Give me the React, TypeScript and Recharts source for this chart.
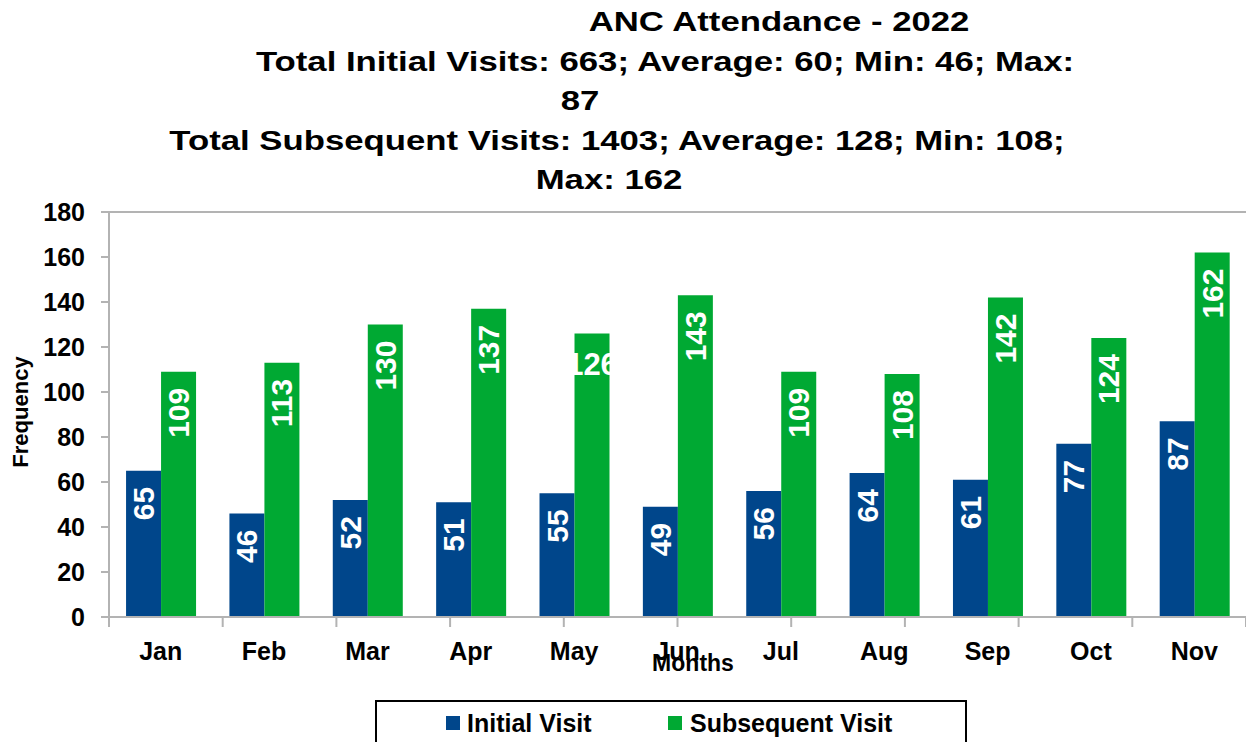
import React from 'react';
import {
  BarChart,
  Bar,
  XAxis,
  YAxis,
  ReferenceLine,
  LabelList,
} from 'recharts';

const months = ['Jan', 'Feb', 'Mar', 'Apr', 'May', 'Jun', 'Jul', 'Aug', 'Sep', 'Oct', 'Nov'];
const initialVisits = [65, 46, 52, 51, 55, 49, 56, 64, 61, 77, 87];
const subsequentVisits = [109, 113, 130, 137, 126, 143, 109, 108, 142, 124, 162];
const yTicks = [0, 20, 40, 60, 80, 100, 120, 140, 160, 180];
const boundaryTicks = [0, 1, 2, 3, 4, 5, 6, 7, 8, 9, 10, 11];

const titleLines = [
  { text: 'ANC Attendance - 2022', cx: 779, cy: 22 },
  { text: 'Total Initial Visits: 663; Average: 60; Min: 46; Max:', cx: 665, cy: 62 },
  { text: '87', cx: 580, cy: 101 },
  { text: 'Total Subsequent Visits: 1403; Average: 128; Min: 108;', cx: 617, cy: 141 },
  { text: 'Max: 162', cx: 609, cy: 180 },
];

// the one label Excel left lying flat (and clipped) in the May bar
const flatLabelMonth = 'May';

const data = months.map((month, i) => ({
  month,
  initial: initialVisits[i],
  subsequent: subsequentVisits[i],
}));

const BLUE = '#00468b';
const GREEN = '#00a933';
const AXIS = '#b3b3b3';
const FONT = '"Liberation Sans", Arial, sans-serif';

const makeLabel = (series: 'initial' | 'subsequent') => (props: any) => {
  const { x, y, width, value, index } = props;
  const cx = Number(x) + Number(width) / 2;
  const top = Number(y);
  if (series === 'subsequent' && months[index] === flatLabelMonth) {
    return (
      <text
        x={cx}
        y={top + 31}
        textAnchor="middle"
        dominantBaseline="central"
        fill="#fff"
        fontSize={31}
        fontWeight="bold"
        fontFamily={FONT}
      >
        {value}
      </text>
    );
  }
  const ty = top + 16;
  return (
    <text
      x={cx}
      y={ty}
      transform={`rotate(-90 ${cx} ${ty})`}
      textAnchor="end"
      dominantBaseline="central"
      fill="#fff"
      fontSize={30}
      fontWeight="bold"
      fontFamily={FONT}
    >
      {value}
    </text>
  );
};

const App: React.FC = () => {
  return (
    <div
      style={{
        position: 'absolute',
        left: 0,
        top: 0,
        width: 1246,
        height: 742,
        overflow: 'hidden',
        background: '#fff',
        fontFamily: FONT,
      }}
    >
      <BarChart
        width={1246}
        height={742}
        data={data}
        margin={{ top: 212, right: 0, bottom: 123, left: 9 }}
        barCategoryGap="16.5%"
        barGap={0}
      >
        <XAxis
          dataKey="month"
          height={1}
          tickLine={false}
          tickSize={0}
          tickMargin={25}
          interval={0}
          axisLine={{ stroke: AXIS, strokeWidth: 2 }}
          tick={{ fontSize: 25, fontWeight: 'bold', fill: '#000', fontFamily: FONT }}
        />
        {/* separator ticks between the months */}
        <XAxis
          xAxisId="grid"
          type="number"
          domain={[0, 11]}
          ticks={boundaryTicks}
          interval={0}
          height={1}
          tickFormatter={() => ''}
          tick={{ fontSize: 1, fill: 'none' }}
          tickSize={9}
          axisLine={false}
          tickLine={{ stroke: AXIS, strokeWidth: 2 }}
          allowDataOverflow
        />
        <YAxis
          width={100}
          domain={[0, 180]}
          ticks={yTicks}
          interval={0}
          tickSize={8}
          tickMargin={16}
          axisLine={{ stroke: AXIS, strokeWidth: 2 }}
          tickLine={{ stroke: AXIS, strokeWidth: 2 }}
          tick={{ fontSize: 25, fontWeight: 'bold', fill: '#000', fontFamily: FONT }}
        />
        <ReferenceLine y={180} stroke={AXIS} strokeWidth={2} />
        <Bar dataKey="initial" name="Initial Visit" fill={BLUE} isAnimationActive={false}>
          <LabelList dataKey="initial" content={makeLabel('initial')} />
        </Bar>
        <Bar dataKey="subsequent" name="Subsequent Visit" fill={GREEN} isAnimationActive={false}>
          <LabelList dataKey="subsequent" content={makeLabel('subsequent')} />
        </Bar>
      </BarChart>

      {titleLines.map((line) => (
        <div
          key={line.text}
          style={{
            position: 'absolute',
            left: line.cx,
            top: line.cy - 20,
            lineHeight: '40px',
            fontSize: 28,
            fontWeight: 'bold',
            whiteSpace: 'nowrap',
            transform: 'translateX(-50%) scaleX(1.24)',
          }}
        >
          {line.text}
        </div>
      ))}

      <div
        style={{
          position: 'absolute',
          left: 21,
          top: 412,
          fontSize: 22,
          fontWeight: 'bold',
          whiteSpace: 'nowrap',
          transform: 'translate(-50%, -50%) rotate(-90deg)',
        }}
      >
        Frequency
      </div>

      <div
        style={{
          position: 'absolute',
          left: 693,
          top: 663,
          fontSize: 23,
          fontWeight: 'bold',
          whiteSpace: 'nowrap',
          transform: 'translate(-50%, -50%)',
        }}
      >
        Months
      </div>

      <div
        style={{
          position: 'absolute',
          left: 375,
          top: 700,
          width: 588,
          height: 60,
          border: '2px solid #000',
        }}
      >
        <div style={{ position: 'absolute', left: 69, top: 14, width: 14, height: 14, background: BLUE }} />
        <div
          style={{
            position: 'absolute',
            left: 90,
            top: 6,
            fontSize: 25,
            fontWeight: 'bold',
            lineHeight: '30px',
            whiteSpace: 'nowrap',
          }}
        >
          Initial Visit
        </div>
        <div style={{ position: 'absolute', left: 291, top: 14, width: 14, height: 14, background: GREEN }} />
        <div
          style={{
            position: 'absolute',
            left: 313,
            top: 6,
            fontSize: 25,
            fontWeight: 'bold',
            lineHeight: '30px',
            whiteSpace: 'nowrap',
          }}
        >
          Subsequent Visit
        </div>
      </div>
    </div>
  );
};

export default App;
